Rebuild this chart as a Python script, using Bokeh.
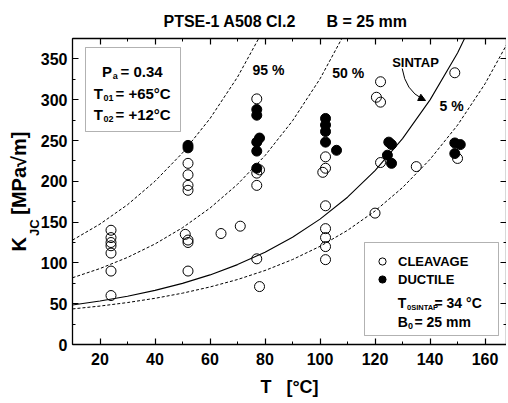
import math
from bokeh.plotting import figure
from bokeh.models import (Range1d, LinearAxis, SingleIntervalTicker, Label, BoxAnnotation,
                          Legend, LegendItem, Arrow, NormalHead, CustomJSTickFormatter)
from bokeh.embed import file_html
from bokeh.resources import INLINE

# ---------------- data ----------------
cleavage_T = [24, 24, 24, 24, 24, 24, 24,
              52, 52, 52, 52, 51, 52, 52, 52,
              64, 71,
              77, 78, 77, 77, 77, 78,
              102, 102, 101, 102, 102, 102, 102, 102,
              122, 120.5, 122, 122, 120,
              135,
              149, 150]
cleavage_K = [140, 131, 125, 121, 112, 90, 60,
              222, 208, 195, 189, 135, 128, 125, 90,
              136, 145,
              301, 214, 210, 195, 105, 71,
              230, 216, 211, 170, 142, 131, 120, 104,
              322, 303, 297, 223, 161,
              218,
              333, 228]

ductile_T = [52, 52,
             77, 77, 78, 77, 77, 77,
             102, 102, 102, 102, 106,
             125, 126, 124.5, 126,
             149, 151, 149]
ductile_K = [244, 241,
             288, 281, 253, 248, 237, 216,
             277, 269, 261, 248, 238,
             248, 245, 232, 222,
             247, 245, 234]

# fitted curves (bimodal master curve 95 / 50 / 5 % and SINTAP 5 %)
t95 = [10, 20, 30, 40, 50, 60, 70, 80]
k95 = [127.9, 147.6, 171.3, 200.1, 234.8, 276.9, 327.7, 389.2]
t50 = [10, 20, 30, 40, 50, 60, 70, 80, 90, 100, 110]
k50 = [81.8, 93.1, 106.7, 123.2, 143.1, 167.2, 196.3, 231.5, 274.1, 325.6, 387.9]
t05 = [10, 20, 30, 40, 50, 60, 70, 80, 90, 100, 110, 120, 130, 140, 150, 160, 170]
k05 = [43.6, 47.1, 51.4, 56.6, 62.9, 70.5, 79.6, 90.7, 104.1, 120.3, 139.9, 163.6,
       192.3, 226.9, 268.8, 319.5, 380.7]
tsin = [10, 20, 30, 40, 50, 60, 70, 80, 90, 100, 110, 120, 130, 140, 150, 160]
ksin = [48.5, 53.3, 59.2, 66.3, 74.9, 85.3, 97.9, 113.0, 131.4, 153.6, 180.5, 213.0,
        252.3, 299.8, 357.3, 426.8]

x_ticks_interval = 20
y_ticks_interval = 50

NB = "\u00a0"
title_text = "PTSE-1 A508 Cl.2" + NB * 7 + "B = 25 mm"
x_title = "T" + NB * 3 + "[°C]"
y_title = "K" + NB * 4 + "[MPa√m]"
y_title_sub = "JC"

# ---------------- layout ----------------
FONT = "Liberation Sans"
X0, X1 = 10, 167.8
Y0, Y1 = 0, 375
FL, FT, FW, FH = 72, 38, 434, 306


def dx(px):
    return X0 + (px - FL) * (X1 - X0) / FW


def dy(py):
    return Y0 + (FT + FH - py) * (Y1 - Y0) / FH


p = figure(frame_width=FW, frame_height=FH,
           x_range=Range1d(X0, X1), y_range=Range1d(Y0, Y1),
           x_axis_type=None, y_axis_type=None,
           output_backend="svg", toolbar_location=None,
           min_border_left=FL, min_border_top=FT,
           min_border_bottom=403 - FT - FH, min_border_right=0)
p.outline_line_color = None
p.background_fill_color = "white"
p.border_fill_color = "white"


def make_axis(interval, labels, standoff):
    ax = LinearAxis(ticker=SingleIntervalTicker(interval=interval, num_minor_ticks=2))
    ax.major_tick_in = 6
    ax.major_tick_out = 0
    ax.minor_tick_in = 3
    ax.minor_tick_out = 0
    ax.axis_line_width = 1.3
    ax.major_tick_line_width = 1.2
    ax.minor_tick_line_width = 1
    ax.axis_line_color = "black"
    ax.major_tick_line_color = "black"
    ax.minor_tick_line_color = "black"
    if labels:
        ax.major_label_text_font = FONT
        ax.major_label_text_font_style = "bold"
        ax.major_label_text_font_size = "16px"
        ax.major_label_text_color = "black"
        ax.major_label_standoff = standoff
        ax.axis_label_text_font = FONT
        ax.axis_label_text_font_style = "bold"
        ax.axis_label_text_color = "black"
    else:
        ax.formatter = CustomJSTickFormatter(code="return ''")
        ax.major_label_text_font_size = "1px"
        ax.major_label_standoff = 0
    return ax


xb = make_axis(x_ticks_interval, True, 8)
xb.axis_label = x_title
xb.axis_label_text_font_size = "18px"
xb.axis_label_standoff = 9
p.add_layout(xb, "below")

yl = make_axis(y_ticks_interval, True, 5)
yl.axis_label = y_title
yl.axis_label_text_font_size = "20px"
yl.axis_label_standoff = 8
p.add_layout(yl, "left")

p.add_layout(make_axis(x_ticks_interval, False, 0), "above")
p.add_layout(make_axis(y_ticks_interval, False, 0), "right")

# ---------------- curves ----------------
p.line(t95, k95, line_color="black", line_width=1, line_dash="3 2")
p.line(t50, k50, line_color="black", line_width=1, line_dash="3 2")
p.line(t05, k05, line_color="black", line_width=1, line_dash="3 2")
p.line(tsin, ksin, line_color="black", line_width=1.1)

# ---------------- points ----------------
r_d = p.scatter(ductile_T, ductile_K, marker="circle", size=10,
                fill_color="black", line_color="black", line_width=1)
r_c = p.scatter(cleavage_T, cleavage_K, marker="circle", size=10,
                fill_color=None, line_color="black", line_width=1)


def lab(px, py, text, size, angle=0.0, place="center"):
    lb = Label(x=dx(px), y=dy(py), text=text, text_font=FONT,
               text_font_style="bold", text_font_size=f"{size}px",
               text_color="black", text_align="left",
               text_baseline="alphabetic", angle=angle)
    p.add_layout(lb, place)


# ---------------- parameter box (top left) ----------------
p.add_layout(BoxAnnotation(left=dx(85), right=dx(180), top=dy(47), bottom=dy(131),
                           fill_color="white", fill_alpha=1.0,
                           line_color="black", line_width=1))
lab(101.5, 71.3, "P", 15)
lab(112.3, 75.5, "a", 9)
lab(120, 71.3, "= 0.34", 15)
lab(93.3, 93, "T", 15)
lab(103, 97.5, "01", 9)
lab(115, 93, "= +65°C", 15)
lab(93.3, 113.5, "T", 15)
lab(103, 118, "02", 9)
lab(115, 113.5, "= +12°C", 15)

# ---------------- legend box (bottom right) ----------------
p.add_layout(BoxAnnotation(left=dx(364), right=dx(498), top=dy(242), bottom=dy(335),
                           fill_color="white", fill_alpha=1.0,
                           line_color="black", line_width=1))
legend = Legend(items=[LegendItem(label="CLEAVAGE", renderers=[r_c]),
                       LegendItem(label="DUCTILE", renderers=[r_d])],
                location=(372 - FL, FT + FH - 288),
                orientation="vertical", padding=0, margin=0, spacing=0,
                glyph_width=20, glyph_height=18, label_height=18,
                label_standoff=6, border_line_color=None,
                background_fill_alpha=0.0,
                label_text_font=FONT, label_text_font_style="bold",
                label_text_font_size="13px", label_text_color="black")
p.add_layout(legend, "center")
lab(397.3, 302.7, "T", 14)
lab(406.5, 306.5, "0SINTAP", 7.5)
lab(434, 302.7, "= 34 °C", 14)
lab(397.3, 321.7, "B", 14)
lab(407.5, 325, "0", 9)
lab(414, 321.7, "= 25 mm", 14)

# ---------------- curve labels ----------------
lab(252, 69, "95 %", 14)
lab(331.7, 72, "50 %", 14)
lab(439, 105, "5 %", 14)
lab(391.7, 62, "SINTAP", 13)
p.quadratic(x0=[dx(401.7)], y0=[dy(68)], x1=[dx(422)], y1=[dy(98.5)],
            cx=[dx(405)], cy=[dy(90)], line_color="black", line_width=1)
p.add_layout(Arrow(end=NormalHead(size=7, fill_color="black", line_color="black"),
                   x_start=dx(419), y_start=dy(97), x_end=dx(425), y_end=dy(100),
                   line_color="black", line_width=1))

# ---------------- title and subscript of the y title (outside the frame) ----------------
lab(163, 20.7, title_text, 16, place="above")
lab(34, 235.5, y_title_sub, 13, math.pi / 2, place="above")

open("out.html", "w").write(file_html(p, INLINE))
